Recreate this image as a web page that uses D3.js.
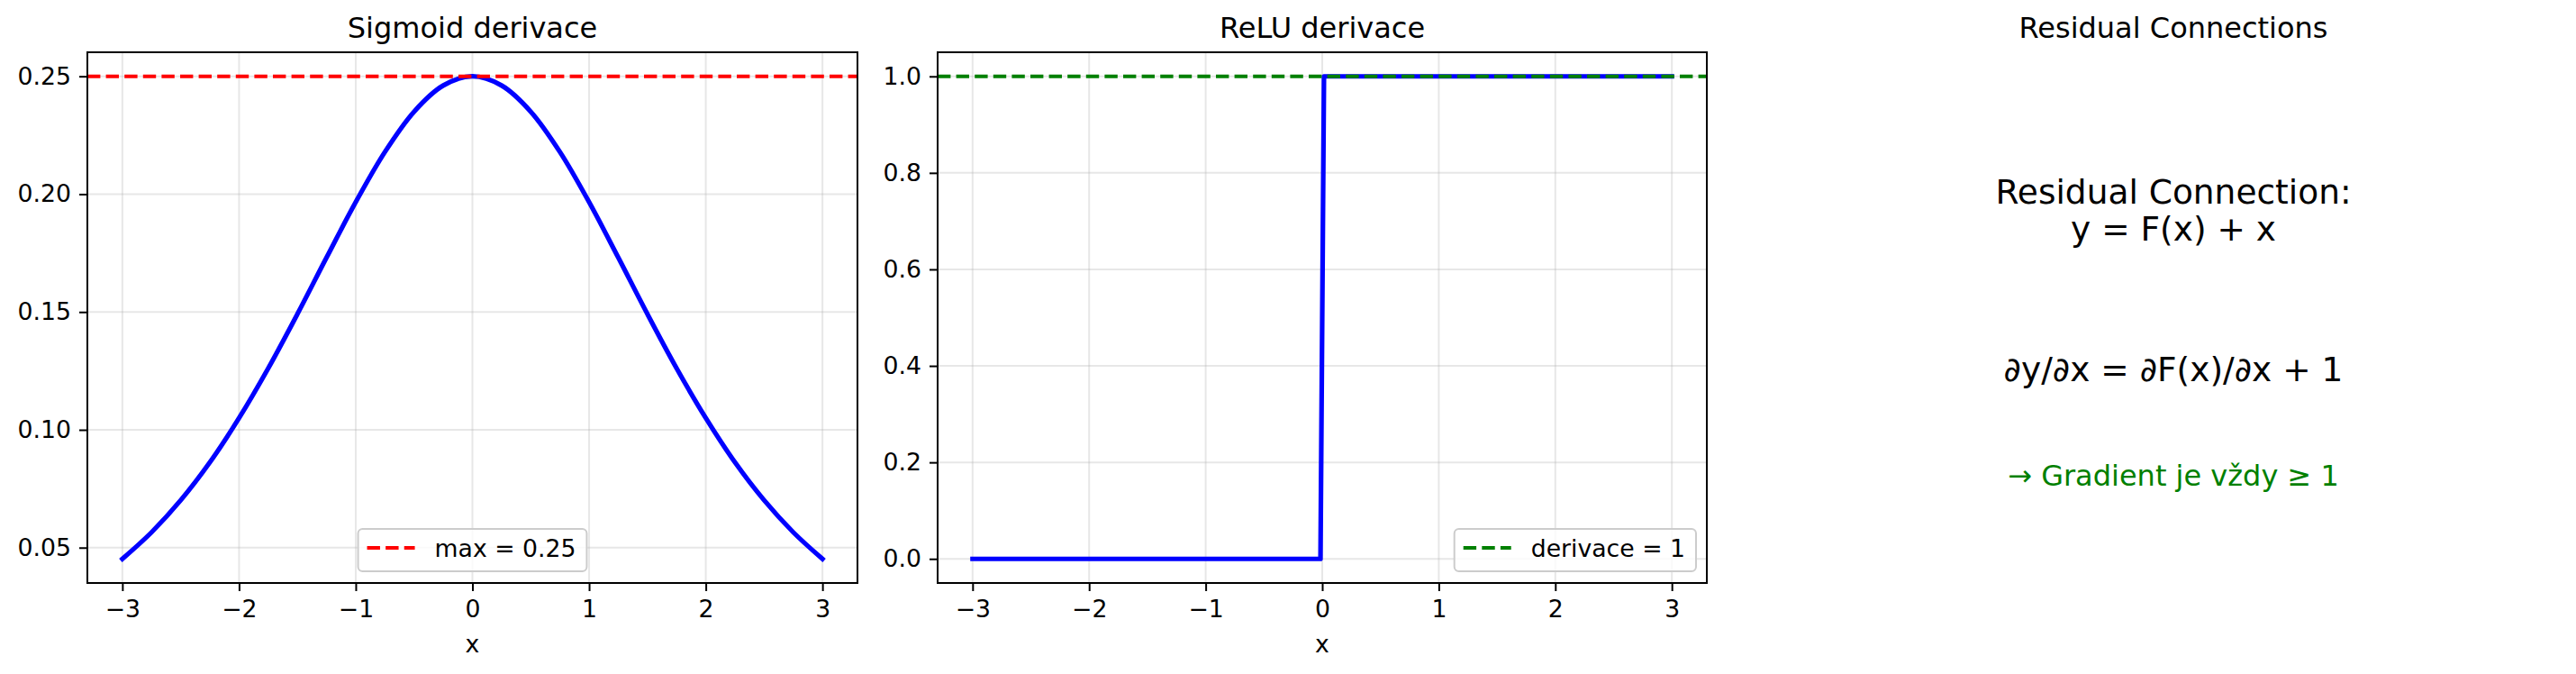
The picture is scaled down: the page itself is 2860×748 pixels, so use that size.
<!DOCTYPE html>
<html>
<head>
<meta charset="utf-8">
<script src="https://cdn.jsdelivr.net/npm/d3@7"></script>
<style>
	body { margin: 0; background: #fff; }
	svg { display: block; font-family: "DejaVu Sans", sans-serif; }
</style>
</head>
<body>
<svg id="fig"></svg>
<script>
const W = 2860, H = 748;

// sigmoid derivative
const sigX = [-3, -2.75, -2.5, -2.25, -2, -1.75, -1.5, -1.25, -1, -0.75, -0.5, -0.25, 0,
	0.25, 0.5, 0.75, 1, 1.25, 1.5, 1.75, 2, 2.25, 2.5, 2.75, 3];
const sigY = [0.0452, 0.0565, 0.0701, 0.0862, 0.1050, 0.1261, 0.1491, 0.1731, 0.1966, 0.2179, 0.2350, 0.2461, 0.25,
	0.2461, 0.2350, 0.2179, 0.1966, 0.1731, 0.1491, 0.1261, 0.1050, 0.0862, 0.0701, 0.0565, 0.0452];
const sigMax = 0.25;

// relu derivative (step at 0)
const reluX = [-3, -0.015, 0.015, 3];
const reluY = [0, 0, 1, 1];
const reluRef = 1;

const xTicks = [-3, -2, -1, 0, 1, 2, 3];
const sigTicks = [0.05, 0.10, 0.15, 0.20, 0.25];
const reluTicks = [0.0, 0.2, 0.4, 0.6, 0.8, 1.0];

const titles = ["Sigmoid derivace", "ReLU derivace", "Residual Connections"];
const legendLabels = ["max = 0.25", "derivace = 1"];
const noteLines = ["Residual Connection:", "y = F(x) + x", "∂y/∂x = ∂F(x)/∂x + 1", "→ Gradient je vždy ≥ 1"];

const plotTop = 58, plotBottom = 647;
const smallFont = "26.7px", titleFont = "32px";

var svg = d3.select("#fig").attr("width", W).attr("height", H);
svg.append("rect").attr("width", W).attr("height", H).attr("fill", "#fff");

const drawPanel = function(opt) {
	var x = d3.scaleLinear().domain([-3.3, 3.3]).range([opt.left, opt.right]);
	var y = d3.scaleLinear().domain(opt.ydom).range([plotBottom, plotTop]);
	var g = svg.append("g");

	// grid
	g.selectAll(".gx").data(xTicks).enter().append("line")
		.attr("x1", d => x(d)).attr("x2", d => x(d))
		.attr("y1", plotTop).attr("y2", plotBottom)
		.attr("stroke", "#b0b0b0").attr("stroke-opacity", 0.3).attr("stroke-width", 2);
	g.selectAll(".gy").data(opt.yticks).enter().append("line")
		.attr("x1", opt.left).attr("x2", opt.right)
		.attr("y1", d => y(d)).attr("y2", d => y(d))
		.attr("stroke", "#b0b0b0").attr("stroke-opacity", 0.3).attr("stroke-width", 2);

	// data line
	var pts = opt.xs.map((d, i) => [d, opt.ys[i]]);
	g.append("path")
		.attr("d", d3.line().x(d => x(d[0])).y(d => y(d[1])).curve(opt.curve)(pts))
		.attr("fill", "none")
		.attr("stroke", "#0000ff")
		.attr("stroke-width", 5.2)
		.attr("stroke-linecap", "square")
		.attr("stroke-linejoin", "round");

	// reference line
	g.append("line")
		.attr("x1", opt.left).attr("x2", opt.right)
		.attr("y1", y(opt.ref)).attr("y2", y(opt.ref))
		.attr("stroke", opt.refColor)
		.attr("stroke-width", 3.9)
		.attr("stroke-dasharray", "14.4,6.2");

	// axes
	var xAxis = d3.axisBottom(x).tickValues(xTicks).tickSize(9).tickPadding(10).tickFormat(d3.format("d"));
	var yAxis = d3.axisLeft(y).tickValues(opt.yticks).tickSize(9).tickPadding(9).tickFormat(d3.format(opt.yfmt));

	var gx = g.append("g").attr("transform", `translate(0,${plotBottom})`).call(xAxis);
	var gy = g.append("g").attr("transform", `translate(${opt.left},0)`).call(yAxis);
	[gx, gy].forEach((a) => {
		a.select(".domain").remove();
		a.selectAll(".tick line").attr("stroke", "#000").attr("stroke-width", 2);
		a.selectAll(".tick text").attr("fill", "#000").style("font-size", smallFont)
			.style("font-family", "DejaVu Sans");
	});

	// frame
	g.append("rect")
		.attr("x", opt.left).attr("y", plotTop)
		.attr("width", opt.right - opt.left).attr("height", plotBottom - plotTop)
		.attr("fill", "none").attr("stroke", "#000").attr("stroke-width", 2);

	// title and x label
	g.append("text")
		.attr("x", (opt.left + opt.right) / 2).attr("y", 42)
		.attr("text-anchor", "middle")
		.style("font-size", titleFont)
		.text(opt.title);
	g.append("text")
		.attr("x", (opt.left + opt.right) / 2).attr("y", 724)
		.attr("text-anchor", "middle")
		.style("font-size", smallFont)
		.text("x");

	// legend
	var lg = g.append("g");
	var box = lg.append("rect");
	var txt = lg.append("text").style("font-size", smallFont).text(opt.legend);
	var tw = txt.node().getComputedTextLength();
	var bw = 10 + 53 + 22 + tw + 12, bh = 47;
	var bx = opt.legendPos === "center" ? (opt.left + opt.right) / 2 - bw / 2 : opt.right - 12 - bw;
	var by = plotBottom - 13 - bh;
	box.attr("x", bx).attr("y", by).attr("width", bw).attr("height", bh)
		.attr("rx", 5).attr("ry", 5)
		.attr("fill", "#fff").attr("fill-opacity", 0.8)
		.attr("stroke", "#cccccc").attr("stroke-width", 2);
	lg.append("line")
		.attr("x1", bx + 10).attr("x2", bx + 63)
		.attr("y1", by + 21).attr("y2", by + 21)
		.attr("stroke", opt.refColor).attr("stroke-width", 3.9)
		.attr("stroke-dasharray", "14.4,6.2");
	txt.attr("x", bx + 85).attr("y", by + 31);
};

drawPanel({
	left: 97, right: 952,
	xs: sigX, ys: sigY, ydom: [0.0350, 0.2602],
	yticks: sigTicks, yfmt: ".2f",
	ref: sigMax, refColor: "#ff0000",
	curve: d3.curveCatmullRom,
	title: titles[0], legend: legendLabels[0], legendPos: "center"
});

drawPanel({
	left: 1041, right: 1895,
	xs: reluX, ys: reluY, ydom: [-0.05, 1.05],
	yticks: reluTicks, yfmt: ".1f",
	ref: reluRef, refColor: "#008000",
	curve: d3.curveLinear,
	title: titles[1], legend: legendLabels[1], legendPos: "right"
});

// third panel: text only
const cx = 2413;
svg.append("text").attr("x", cx).attr("y", 42).attr("text-anchor", "middle")
	.style("font-size", titleFont).text(titles[2]);

const notes = [
	{ t: noteLines[0], y: 226, size: 37.5, color: "#000" },
	{ t: noteLines[1], y: 267, size: 37.5, color: "#000" },
	{ t: noteLines[2], y: 423, size: 37.5, color: "#000" },
	{ t: noteLines[3], y: 539, size: 32, color: "#008000" }
];
svg.selectAll(".note").data(notes).enter().append("text")
	.attr("class", "note")
	.attr("x", cx).attr("y", d => d.y)
	.attr("text-anchor", "middle")
	.attr("fill", d => d.color)
	.style("font-size", d => d.size + "px")
	.text(d => d.t);
</script>
</body>
</html>
